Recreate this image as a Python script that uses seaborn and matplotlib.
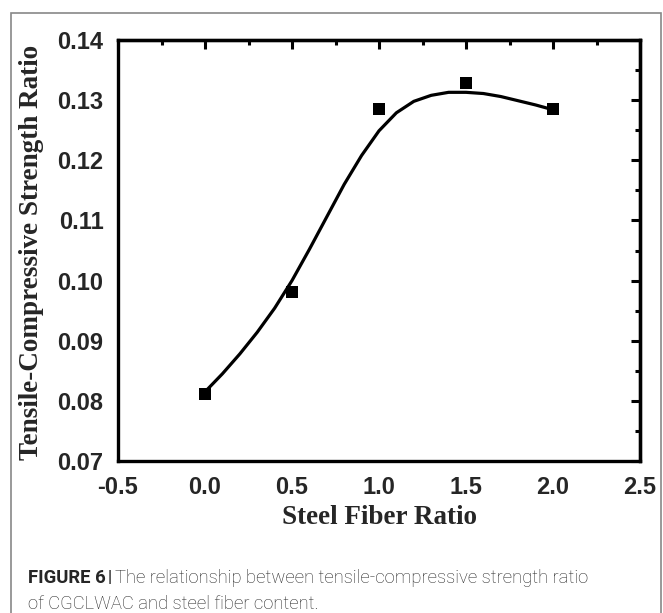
import numpy as np
import pandas as pd
import matplotlib
matplotlib.use("Agg")
import matplotlib.pyplot as plt
import seaborn as sns
from matplotlib.ticker import MultipleLocator, FormatStrFormatter
from matplotlib.patches import Rectangle

# measured points
fiber = [0.0, 0.5, 1.0, 1.5, 2.0]
ratio = [0.0811, 0.0981, 0.1285, 0.1328, 0.1285]

# fitted curve
fit_x = [0.0, 0.1, 0.2, 0.3, 0.4, 0.5, 0.6, 0.7, 0.8, 0.9, 1.0,
         1.1, 1.2, 1.3, 1.4, 1.5, 1.6, 1.7, 1.8, 1.9, 2.0]
fit_y = [0.0815, 0.0845, 0.0878, 0.0914, 0.0954, 0.1000, 0.1052, 0.1106, 0.1160,
         0.1208, 0.1249, 0.1279, 0.1298, 0.1308, 0.1313, 0.1313, 0.1311, 0.1306,
         0.1299, 0.1292, 0.1284]

x_label = "Steel Fiber Ratio"
y_label = "Tensile-Compressive Strength Ratio"
cap_bold = "FIGURE 6"
cap_line1 = "The relationship between tensile-compressive strength ratio"
cap_line2 = "of CGCLWAC and steel fiber content."

sns.set_style("white")
plt.rcParams["font.family"] = ["Liberation Sans", "DejaVu Sans"]
plt.rcParams["axes.unicode_minus"] = False

W, H = 663, 613
fig = plt.figure(figsize=(W / 100, H / 100), dpi=100)
ax = fig.add_axes([118 / W, 1 - 461 / H, (640 - 118) / W, (461 - 40) / H])

sns.lineplot(x=fit_x, y=fit_y, ax=ax, color="black", linewidth=2.3, sort=True)
sns.scatterplot(x=fiber, y=ratio, ax=ax, marker="s", s=85, color="black",
                edgecolor="black", linewidth=0, zorder=3)

ax.set_xlim(-0.5, 2.5)
ax.set_ylim(0.07, 0.14)
ax.xaxis.set_major_locator(MultipleLocator(0.5))
ax.xaxis.set_minor_locator(MultipleLocator(0.25))
ax.yaxis.set_major_locator(MultipleLocator(0.01))
ax.yaxis.set_minor_locator(MultipleLocator(0.005))
ax.xaxis.set_major_formatter(FormatStrFormatter("%.1f"))
ax.yaxis.set_major_formatter(FormatStrFormatter("%.2f"))

for s in ax.spines.values():
    s.set_linewidth(2.4)
    s.set_color("black")

tick_kw = dict(color="black", width=2.2)
ax.tick_params(which="major", direction="out", length=6.5, pad=4, labelsize=17, **tick_kw)
ax.tick_params(which="minor", direction="out", length=3.5, **tick_kw)
for lab in ax.get_xticklabels() + ax.get_yticklabels():
    lab.set_fontweight("bold")

# top and right ticks point inward
top = ax.secondary_xaxis("top")
top.xaxis.set_major_locator(MultipleLocator(0.5))
top.xaxis.set_minor_locator(MultipleLocator(0.25))
right = ax.secondary_yaxis("right")
right.yaxis.set_major_locator(MultipleLocator(0.01))
right.yaxis.set_minor_locator(MultipleLocator(0.005))
for sec in (top, right):
    sec.tick_params(which="major", direction="in", length=6.5, **tick_kw)
    sec.tick_params(which="minor", direction="in", length=3.5, **tick_kw)
    sec.tick_params(which="both", labeltop=False, labelright=False)
    for s in sec.spines.values():
        s.set_linewidth(2.4)

serif = ["Liberation Serif", "DejaVu Serif"]
fig.text(379 / W, 1 - 517 / H, x_label, ha="center", va="center",
         family=serif, fontweight="bold", fontsize=19.5)
fig.text(32 / W, 1 - 252 / H, y_label, ha="center", va="center", rotation=90,
         family=serif, fontweight="bold", fontsize=19.5)

# caption
cap_font = ["Roboto", "Liberation Sans", "DejaVu Sans"]
renderer = fig.canvas.get_renderer()


def fit_text(x0, x1, y, text, **kw):
    t = fig.text(x0 / W, 1 - y / H, text, ha="left", va="center", family=cap_font, **kw)
    w = t.get_window_extent(renderer).width
    t.set_fontsize(t.get_fontsize() * (x1 - x0) / w)
    return t


fit_text(28, 106, 578, cap_bold, fontweight="bold", fontsize=11)
fig.text(108 / W, 1 - 578 / H, "|", ha="left", va="center", family=cap_font,
         fontweight="bold", fontsize=12)
t1 = fit_text(115, 587, 578, cap_line1, fontweight="light", fontsize=11)
fig.text(28 / W, 1 - 604 / H, cap_line2, ha="left", va="center", family=cap_font,
         fontweight="light", fontsize=t1.get_fontsize())

fig.patches.append(Rectangle((11 / W, -0.05), (661 - 11) / W, 1 - 13 / H + 0.05,
                             transform=fig.transFigure, fill=False,
                             edgecolor="#888888", linewidth=1.2))

fig.savefig("out.png", dpi=100)
